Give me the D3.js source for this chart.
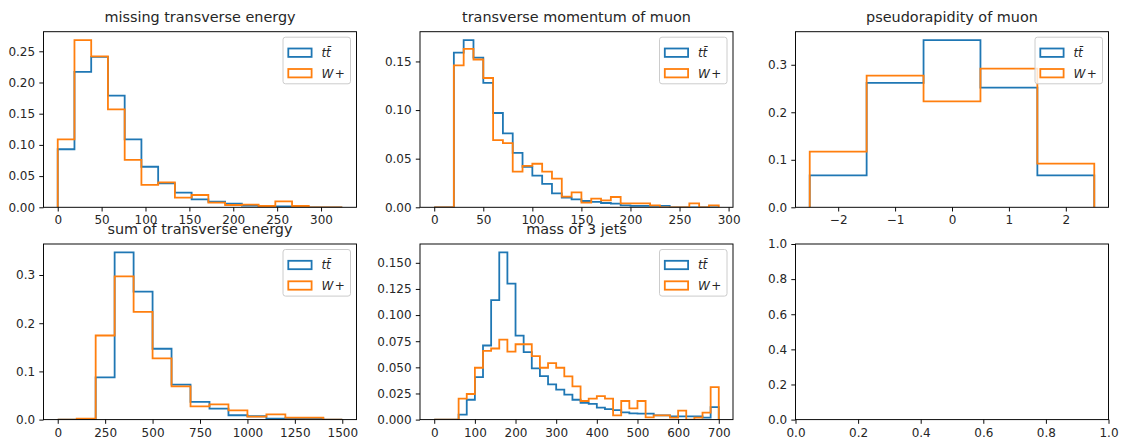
<!DOCTYPE html>
<html><head><meta charset="utf-8">
<script src="https://cdn.jsdelivr.net/npm/d3@7"></script>
<style>
body{margin:0;background:#fff}
svg{display:block}
text{font-family:"DejaVu Sans",sans-serif}
</style>
</head><body>
<svg id="c" width="1121" height="438"></svg>
<script>
// ---------- data ----------
const titles = ["missing transverse energy", "transverse momentum of muon", "pseudorapidity of muon",
                "sum of transverse energy", "mass of 3 jets"];
const seriesNames = ["tt", "W+"];

const metEdges = [0, 19.07, 38.14, 57.21, 76.28, 95.35, 114.42, 133.49, 152.56, 171.63, 190.7,
                  209.77, 228.84, 247.91, 266.98, 286.05, 305.12, 324.19];
const metTT = [0.093, 0.217, 0.241, 0.179, 0.109, 0.065, 0.0384, 0.0235, 0.0128, 0.009, 0.0059,
               0.0027, 0.0016, 0.0016, 0, 0, 0];
const metW  = [0.109, 0.268, 0.242, 0.157, 0.076, 0.036, 0.040, 0.0155, 0.0197, 0.0075, 0.0037,
               0.0043, 0.0021, 0.0096, 0.0021, 0, 0];

const ptEdges = [0, 10, 20, 30, 40, 50, 60, 70, 80, 90, 100, 110, 120, 130, 140, 150, 160, 170, 180,
                 190, 200, 210, 220, 230, 240, 250, 260, 270, 280, 290];
const ptTT = [0, 0, 0.159, 0.172, 0.154, 0.128, 0.097, 0.076, 0.056, 0.0417, 0.0325, 0.024, 0.0143,
              0.0099, 0.0082, 0.0065, 0.0055, 0.0044, 0.0038, 0.002, 0.0014, 0.0014, 0.0014, 0.0014,
              0, 0, 0, 0, 0];
const ptW  = [0, 0, 0.146, 0.163, 0.152, 0.133, 0.069, 0.066, 0.0366, 0.0427, 0.0448, 0.0366, 0.0294,
              0.011, 0.0154, 0.0048, 0.0089, 0.0072, 0.0106, 0.004, 0.004, 0.004, 0.002, 0,
              0, 0, 0.004, 0, 0.002];

const etaEdges = [-2.5, -1.5, -0.5, 0.5, 1.5, 2.5];
const etaTT = [0.067, 0.262, 0.352, 0.252, 0.067];
const etaW  = [0.117, 0.277, 0.223, 0.292, 0.092];

const htEdges = [0, 100, 200, 300, 400, 500, 600, 700, 800, 900, 1000, 1100, 1200, 1300, 1400, 1500];
const htTT = [0, 0, 0.0876, 0.347, 0.2655, 0.147, 0.0724, 0.0366, 0.0228, 0.009, 0.007, 0.002,
              0.0028, 0.003, 0];
const htW  = [0, 0.002, 0.1745, 0.297, 0.2234, 0.127, 0.069, 0.0276, 0.0317, 0.0193, 0.0062, 0.011,
              0.004, 0.004, 0];

const m3Edges = [0, 20, 40, 60, 80, 100, 120, 140, 160, 180, 200, 220, 240, 260, 280, 300, 320, 340,
                 360, 380, 400, 420, 440, 460, 480, 500, 520, 540, 560, 580, 600, 620, 640, 660, 680, 700];
const m3TT = [0, 0, 0, 0.0048, 0.019, 0.0407, 0.0709, 0.1144, 0.160, 0.130, 0.0804, 0.0645, 0.049,
              0.0416, 0.0337, 0.0286, 0.0238, 0.019, 0.016, 0.015, 0.0114, 0.010, 0.009, 0.007, 0.006,
              0.0057, 0.0057, 0.004, 0.004, 0.003, 0.003, 0.003, 0.003, 0.0019, 0.012];
const m3W  = [0, 0, 0, 0.020, 0.0245, 0.0496, 0.0658, 0.068, 0.0766, 0.0651, 0.0721, 0.0721, 0.0607,
              0.0496, 0.054, 0.0496, 0.0413, 0.0318, 0.0178, 0.020, 0.0224, 0.020, 0.0041, 0.0178,
              0.0108, 0.0178, 0.0022, 0.0041, 0.0041, 0.0019, 0.0086, 0, 0.0019, 0.0067, 0.0311];

const metXTicks = [0, 50, 100, 150, 200, 250, 300];
const metYTicks = [0, 0.05, 0.10, 0.15, 0.20, 0.25];
const ptXTicks = [0, 50, 100, 150, 200, 250, 300];
const ptYTicks = [0, 0.05, 0.10, 0.15];
const etaXTicks = [-2, -1, 0, 1, 2];
const etaYTicks = [0, 0.1, 0.2, 0.3];
const htXTicks = [0, 250, 500, 750, 1000, 1250, 1500];
const htYTicks = [0, 0.1, 0.2, 0.3];
const m3XTicks = [0, 100, 200, 300, 400, 500, 600, 700];
const m3YTicks = [0, 0.025, 0.05, 0.075, 0.1, 0.125, 0.15];
const emptyTicks = [0, 0.2, 0.4, 0.6, 0.8, 1.0];

// ---------- layout ----------
const colors = ["#1f77b4", "#ff7f0e"];
const colX = [43.5, 420, 795.5], axW = 313;
const rowY = [31.7, 244], axH = 175.6;

const panels = [
  {title: titles[0], edges: metEdges, series: [metTT, metW], xt: metXTicks, yt: metYTicks, xf: d3.format("d"), yf: d3.format(".2f"), col: 0, row: 0},
  {title: titles[1], edges: ptEdges, series: [ptTT, ptW], xt: ptXTicks, yt: ptYTicks, xf: d3.format("d"), yf: d3.format(".2f"), col: 1, row: 0},
  {title: titles[2], edges: etaEdges, series: [etaTT, etaW], xt: etaXTicks, yt: etaYTicks, xf: d3.format("d"), yf: d3.format(".1f"), col: 2, row: 0},
  {title: titles[3], edges: htEdges, series: [htTT, htW], xt: htXTicks, yt: htYTicks, xf: d3.format("d"), yf: d3.format(".1f"), col: 0, row: 1},
  {title: titles[4], edges: m3Edges, series: [m3TT, m3W], xt: m3XTicks, yt: m3YTicks, xf: d3.format("d"), yf: d3.format(".3f"), col: 1, row: 1},
  {title: null, edges: null, series: [], xt: emptyTicks, yt: emptyTicks, xf: d3.format(".1f"), yf: d3.format(".1f"), col: 2, row: 1}
];

const svg = d3.select("#c");
const defs = svg.append("defs");

panels.forEach((p, i) => {
  const L = colX[p.col], T = rowY[p.row];
  let x, y;
  if (p.edges) {
    const e0 = p.edges[0], eN = p.edges[p.edges.length - 1], R = eN - e0;
    x = d3.scaleLinear().domain([e0 - 0.05 * R, eN + 0.05 * R]).range([L, L + axW]);
    const ymax = d3.max(p.series.flat());
    y = d3.scaleLinear().domain([0, ymax * 1.05]).range([T + axH, T]);
  } else {
    x = d3.scaleLinear().domain([0, 1]).range([L, L + axW]);
    y = d3.scaleLinear().domain([0, 1]).range([T + axH, T]);
  }
  const g = svg.append("g");
  defs.append("clipPath").attr("id", "clip" + i)
    .append("rect").attr("x", L).attr("y", T).attr("width", axW).attr("height", axH);

  // step histograms
  const line = d3.line().x(d => x(d[0])).y(d => y(d[1]));
  p.series.forEach((vals, k) => {
    const pts = [[p.edges[0], 0]];
    vals.forEach((v, j) => { pts.push([p.edges[j], v]); pts.push([p.edges[j + 1], v]); });
    pts.push([p.edges[p.edges.length - 1], 0]);
    g.append("path").attr("d", line(pts)).attr("fill", "none")
      .attr("stroke", colors[k]).attr("stroke-width", 1.8)
      .attr("stroke-linejoin", "miter").attr("clip-path", `url(#clip${i})`);
  });

  // axes
  const ax = g.append("g").attr("transform", `translate(0,${T + axH})`)
    .call(d3.axisBottom(x).tickValues(p.xt).tickFormat(p.xf).tickSize(4.2).tickPadding(4.2));
  const ay = g.append("g").attr("transform", `translate(${L},0)`)
    .call(d3.axisLeft(y).tickValues(p.yt).tickFormat(p.yf).tickSize(4.2).tickPadding(4.2));
  [ax, ay].forEach(a => {
    a.select(".domain").remove();
    a.selectAll(".tick line").attr("stroke", "#000").attr("stroke-width", 0.96);
    a.selectAll(".tick text").attr("font-size", 12).attr("fill", "#262626")
      .attr("font-family", "DejaVu Sans");
  });

  // spines
  g.append("rect").attr("x", L).attr("y", T).attr("width", axW).attr("height", axH)
    .attr("fill", "none").attr("stroke", "#000").attr("stroke-width", 0.96);

  // title
  if (p.title) {
    g.append("text").attr("x", L + axW / 2).attr("y", T - 10)
      .attr("text-anchor", "middle").attr("font-size", 14.4).attr("fill", "#262626")
      .text(p.title);
  }

  // legend
  if (p.series.length) {
    const lw = 67.5, lh = 46.6;
    const lx = L + axW - 6 - lw, ly = T + 5.5;
    const lg = g.append("g");
    lg.append("rect").attr("x", lx).attr("y", ly).attr("width", lw).attr("height", lh)
      .attr("rx", 2.5).attr("fill", "#fff").attr("fill-opacity", 0.8)
      .attr("stroke", "#cccccc").attr("stroke-width", 1);
    const rowC = [ly + 15.5, ly + 36];
    seriesNames.forEach((nm, k) => {
      lg.append("rect").attr("x", lx + 5.3).attr("y", rowC[k] - 4.2).attr("width", 23.3).attr("height", 8.4)
        .attr("fill", "none").attr("stroke", colors[k]).attr("stroke-width", 1.8);
      const t = lg.append("text").attr("x", lx + 38.4).attr("y", rowC[k] + 4.3)
        .attr("font-size", 12).attr("fill", "#262626");
      if (k === 0) {
        t.append("tspan").attr("font-style", "italic").text("t");
        t.append("tspan").attr("font-style", "italic").text("t\u0304");
      } else {
        t.append("tspan").attr("font-style", "italic").text("W");
        t.append("tspan").attr("dx", 1.5).text("+");
      }
    });
  }
});
</script>
</body></html>
